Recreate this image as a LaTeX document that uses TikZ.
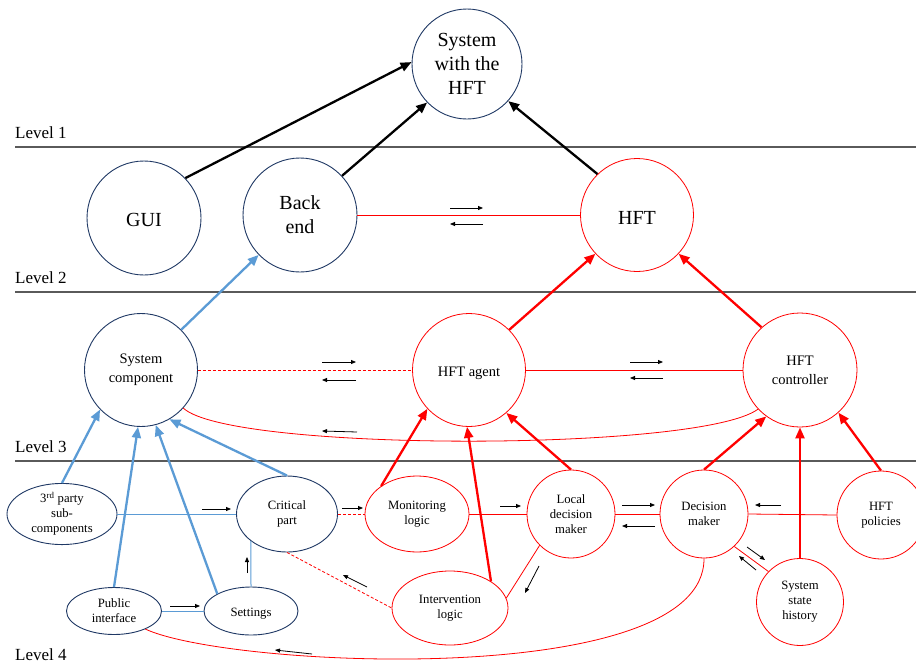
\documentclass[tikz,border=0pt]{standalone}
\usepackage{fontspec}
\setmainfont{Liberation Serif}
\usetikzlibrary{arrows.meta,shapes.geometric}
\definecolor{navy}{RGB}{31,56,100}
\definecolor{hred}{RGB}{255,0,0}
\definecolor{lblue}{RGB}{91,155,213}
\definecolor{lvgray}{RGB}{90,90,90}
\begin{document}
\begin{tikzpicture}[x=1pt,y=-1pt,
  bigfont/.style={font=\fontsize{20}{24}\selectfont, execute at begin node={\rule{0pt}{18pt}}},
  midfont/.style={font=\fontsize{14.5}{19}\selectfont, execute at begin node={\rule{0pt}{16pt}}},
  smallfont/.style={font=\fontsize{12.7}{15}\selectfont, execute at begin node={\rule{0pt}{14.5pt}}},
  lvl/.style={font=\fontsize{17}{20}\selectfont, anchor=west, inner sep=0},
  navyc/.style={circle, draw=navy, line width=0.9pt, inner sep=0, align=center},
  redc/.style={circle, draw=hred, line width=0.8pt, inner sep=0, align=center},
  navye/.style={ellipse, draw=navy, line width=0.9pt, inner sep=0, align=center},
  rede/.style={ellipse, draw=hred, line width=0.8pt, inner sep=0, align=center},
  levelline/.style={draw=lvgray, line width=1.3pt},
  blackarrow/.style={draw=black, line width=2.3pt, -{Triangle[length=11pt,width=9pt]}},
  redarrow/.style={draw=hred, line width=2.3pt, -{Triangle[length=11pt,width=9pt]}},
  bluearrow/.style={draw=lblue, line width=2.3pt, -{Triangle[length=11pt,width=9pt]}},
  redthin/.style={draw=hred, line width=0.8pt},
  reddash/.style={draw=hred, line width=0.8pt, dash pattern=on 3pt off 2pt},
  bluethin/.style={draw=lblue, line width=1pt},
  tiny/.style={draw=black, line width=0.8pt, -{Triangle[length=5pt,width=4pt]}}
]
\useasboundingbox (0,0) rectangle (916,667);

% level lines and labels
\draw[levelline] (15,147) -- (916,147);
\draw[levelline] (15,292) -- (916,292);
\draw[levelline] (15,461) -- (916,461);
\node[lvl] (l1) at (15,133) {Level 1};
\node[lvl] (l2) at (15,278) {Level 2};
\node[lvl] (l3) at (15,447) {Level 3};
\node[lvl] (l4) at (15,655) {Level 4};

% level 1
\node[navyc, bigfont, minimum size=110pt] (top) at (467,64) {System\\with the\\HFT};
% level 2
\node[navyc, bigfont, minimum size=114pt] (gui) at (144,218) {GUI};
\node[navyc, bigfont, minimum size=114pt] (be) at (300,215) {Back\\end};
\node[redc, bigfont, minimum size=113pt] (hft) at (637,215) {HFT};
% level 3
\node[navyc, midfont, minimum size=113pt] (sc) at (141,370) {System\\component};
\node[redc, midfont, minimum size=113pt] (ha) at (469,370) {HFT agent};
\node[redc, midfont, minimum size=114pt] (hc) at (800,370) {HFT\\controller};
% level 4
\node[navye, smallfont, minimum width=110pt, minimum height=54pt] (tp) at (62,514) {3\textsuperscript{rd} party\\sub-\\components};
\node[navye, smallfont, minimum width=101pt, minimum height=76pt] (cp) at (287,514) {Critical\\part};
\node[rede, smallfont, minimum width=104pt, minimum height=76pt] (ml) at (417,514) {Monitoring\\logic};
\node[redc, smallfont, minimum size=88pt] (ldm) at (571,514) {Local\\decision\\maker};
\node[redc, smallfont, minimum size=88pt] (dm) at (704,514) {Decision\\maker};
\node[redc, smallfont, minimum size=88pt] (hp) at (881,515) {HFT\\policies};
\node[redc, smallfont, minimum size=87pt] (ssh) at (800,602) {System\\state\\history};
\node[navye, smallfont, minimum width=95pt, minimum height=47pt] (pi) at (114,611) {Public\\interface};
\node[navye, smallfont, minimum width=94pt, minimum height=48pt] (st) at (251,611) {Settings};
\node[rede, smallfont, minimum width=116pt, minimum height=74pt] (il) at (450,608) {Intervention\\logic};

% level 1 arrows
\draw[blackarrow] (gui.44) -- (top.178);
\draw[blackarrow] (be.43) -- (top.224);
\draw[blackarrow] (hft.134) -- (top.318);
\draw[redthin] (be.east) -- (hft.west);

% level 2 arrows
\draw[bluearrow] (sc.45) -- (be.224);
\draw[redarrow] (ha.45) -- (hft.223);
\draw[redarrow] (hc.132) -- (hft.317);
\draw[reddash] (sc.east) -- (ha.west);
\draw[redthin] (ha.east) -- (hc.west);
\draw[redthin] (sc.318) .. controls (230,452) and (700,452) .. (hc.223);

% level 3 arrows
\draw[bluearrow] (tp.north) -- (sc.224);
\draw[bluearrow] (pi.north) -- (sc.267);
\draw[bluearrow] (st.153) -- (sc.285);
\draw[bluearrow] (cp.north) -- (sc.300);
\draw[redarrow] (ml.142) -- (ha.223);
\draw[redarrow] (il.33) -- (ha.268);
\draw[redarrow] (ldm.north) -- (ha.311);
\draw[redarrow] (dm.north) -- (hc.234);
\draw[redarrow] (ssh.north) -- (hc.south);
\draw[redarrow] (hp.north) -- (hc.312);

% level 4 links
\draw[bluethin] (tp.east) -- (cp.west);
\draw[bluethin] (pi.east) -- (st.west);
\draw[bluethin] (st.north) -- (cp.217);
\draw[reddash] (cp.east) -- (ml.west);
\draw[reddash] (cp.south) -- (il.west);
\draw[redthin] (ml.east) -- (ldm.west);
\draw[redthin] (ldm.east) -- (dm.west);
\draw[redthin] (dm.east) -- (hp.west);
\draw[redthin] (ldm.225) -- (il.10);
\draw[redthin] (dm.313) -- (ssh.136);
\draw[redthin] (pi.330) .. controls (230,668) and (705,690) .. (dm.south);

% direction indicators
\draw[tiny] (450,208) -- (483,208);
\draw[tiny] (483,224) -- (450,224);
\draw[tiny] (322,362) -- (356,362);
\draw[tiny] (356,380) -- (322,380);
\draw[tiny] (630,362) -- (663,362);
\draw[tiny] (663,378) -- (630,378);
\draw[tiny] (357,432) -- (322,431);
\draw[tiny] (202,509) -- (231,509);
\draw[tiny] (170,606) -- (200,606);
\draw[tiny] (247,573) -- (247,557);
\draw[tiny] (312,654) -- (275,650);
\draw[tiny] (342,508) -- (363,508);
\draw[tiny] (367,587) -- (343,575);
\draw[tiny] (500,506) -- (521,506);
\draw[tiny] (539,566) -- (525,593);
\draw[tiny] (622,505) -- (655,505);
\draw[tiny] (655,526) -- (622,526);
\draw[tiny] (781,505) -- (755,505);
\draw[tiny] (747,547) -- (765,560);
\draw[tiny] (756,570) -- (739,556);
\end{tikzpicture}
\end{document}
